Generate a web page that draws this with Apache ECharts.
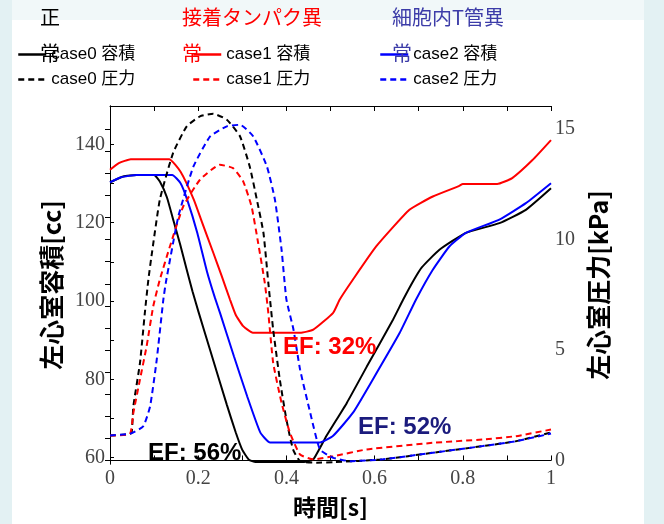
<!DOCTYPE html>
<html>
<head>
<meta charset="utf-8">
<script src="https://cdn.jsdelivr.net/npm/echarts@6/dist/echarts.min.js"></script>
<style>
  html, body { margin: 0; padding: 0; }
  #chart { width: 664px; height: 524px; }
</style>
</head>
<body>
<div id="chart"></div>
<script>
// Left ventricle volume [cc] over one cardiac cycle, time [s]
const case0VolT = [0, 0.03, 0.06, 0.1, 0.113, 0.129, 0.144, 0.159, 0.174, 0.187, 0.2, 0.227, 0.265, 0.285, 0.3, 0.315, 0.33, 0.44, 0.461, 0.491, 0.537, 0.582, 0.642, 0.664, 0.687, 0.707, 0.747, 0.807, 0.883, 0.943, 1];
const case0Vol  = [130.3, 131.8, 132.2, 132.2, 130.5, 126.5, 120.5, 114.5, 108, 102.5, 97.5, 87.5, 73.5, 66.5, 62, 59.5, 58.9, 58.9, 59.6, 65.6, 74, 83.2, 95.3, 100.2, 105, 108.6, 113.1, 117.4, 119.9, 123.3, 128.8];

const case1VolT = [0, 0.02, 0.047, 0.134, 0.16, 0.19, 0.209, 0.234, 0.253, 0.272, 0.285, 0.302, 0.324, 0.431, 0.461, 0.506, 0.521, 0.551, 0.604, 0.679, 0.732, 0.792, 0.8, 0.878, 0.912, 0.958, 1];
const case1Vol  = [133.5, 135.2, 136.2, 136.2, 133, 125.9, 120, 112.4, 106.5, 100.4, 96.5, 93.6, 91.9, 91.9, 92.7, 97, 100.4, 105.5, 114, 123.3, 126.7, 129.4, 129.9, 129.9, 131.4, 136, 141.1];

const case2VolT = [0, 0.025, 0.06, 0.141, 0.16, 0.175, 0.198, 0.22, 0.238, 0.25, 0.281, 0.311, 0.341, 0.363, 0.476, 0.506, 0.551, 0.596, 0.657, 0.694, 0.732, 0.77, 0.807, 0.883, 0.943, 1];
const case2Vol  = [130.3, 131.6, 132.2, 132.2, 130.1, 125.9, 117.4, 107.5, 100.8, 96.8, 85.9, 75.7, 66.4, 63.9, 63.9, 65.6, 71.5, 80, 91.9, 100.4, 108, 114, 117.4, 120.8, 125, 130.1];

// Left ventricle pressure [kPa]
const case0PresT = [0, 0.04, 0.049, 0.053, 0.068, 0.079, 0.087, 0.094, 0.113, 0.143, 0.174, 0.204, 0.234, 0.265, 0.295, 0.317, 0.333, 0.348, 0.359, 0.37, 0.385, 0.4, 0.415, 0.431, 0.469, 0.506, 0.619, 0.732, 0.845, 0.92, 1];
const case0Pres  = [1.13, 1.18, 1.25, 2.46, 4.42, 6.68, 8.19, 9.24, 11.81, 13.92, 15.13, 15.58, 15.7, 15.43, 14.67, 13.3, 11.81, 10.3, 8.04, 5.93, 3.67, 1.86, 0.5, -0.03, -0.1, -0.08, 0.05, 0.35, 0.65, 0.87, 1.27];

const case1PresT = [0, 0.045, 0.053, 0.068, 0.083, 0.098, 0.113, 0.136, 0.166, 0.204, 0.249, 0.279, 0.302, 0.321, 0.336, 0.351, 0.359, 0.37, 0.389, 0.408, 0.431, 0.461, 0.506, 0.582, 0.732, 0.845, 0.92, 1];
const case1Pres  = [1.13, 1.2, 2.16, 3.67, 5.17, 6.98, 8.19, 9.7, 11.5, 12.71, 13.39, 13.24, 12.64, 11.5, 9.84, 8.04, 6.68, 4.42, 2.61, 1.25, 0.27, 0.05, 0.19, 0.5, 0.8, 0.95, 1.1, 1.4];

const case2PresT = [0, 0.047, 0.0755, 0.091, 0.106, 0.121, 0.127, 0.155, 0.189, 0.227, 0.265, 0.295, 0.325, 0.356, 0.374, 0.389, 0.4, 0.416, 0.431, 0.454, 0.476, 0.506, 0.544, 0.619, 0.732, 0.845, 0.92, 1];
const case2Pres  = [1.13, 1.22, 1.55, 2.46, 4.57, 7.29, 8.1, 11.05, 13.3, 14.67, 15.13, 15.2, 14.67, 13.3, 11.81, 9.55, 7.29, 5.93, 4.12, 2.16, 0.5, 0.12, -0.03, 0.05, 0.35, 0.65, 0.87, 1.22];

// Axis ticks and labels
const timeTicks   = [0, 0.1, 0.2, 0.3, 0.4, 0.5, 0.6, 0.7, 0.8, 0.9, 1];
const timeLabels  = [0, 0.2, 0.4, 0.6, 0.8, 1];
const volTicks    = [60, 70, 80, 90, 100, 110, 120, 130, 140];
const volLabels   = [60, 80, 100, 120, 140];
const presTicks   = [0, 1, 2, 3, 4, 5, 6, 7, 8, 9, 10, 11, 12, 13, 14, 15];
const presLabels  = [0, 5, 10, 15];

// Group headings and ejection fraction notes
const groupTitles = ['正常', '接着タンパク異常', '細胞内T管異常'];
const efTexts     = ['EF: 56%', 'EF: 32%', 'EF: 52%'];

const zip = (xs, ys) => xs.map((x, i) => [x, ys[i]]);

const CJK = '"Noto Sans CJK JP", "Liberation Sans", sans-serif';
const SANS = '"Liberation Sans", "Noto Sans CJK JP", sans-serif';
const SERIF = '"Liberation Serif", serif';

const tickLabel = { fontFamily: SERIF, fontSize: 20, color: '#444' };
const axisLine = { show: true, lineStyle: { color: '#000', width: 1 } };
const axisTitle = (size) => ({ fontFamily: CJK, fontSize: size, fontWeight: 'bold', color: '#000' });

function lineSeries(name, data, color, dashed, yIndex) {
  return {
    name, type: 'line', data, yAxisIndex: yIndex,
    symbol: 'none', showSymbol: false,
    smooth: 0.15, animation: false,
    lineStyle: { color, width: 2, type: dashed ? [6, 4] : 'solid' },
    itemStyle: { color }
  };
}

function legendBlock(left, names) {
  return {
    data: names, orient: 'vertical', left, top: 46, padding: 0,
    itemWidth: 28, itemHeight: 14, itemGap: 8,
    itemStyle: { opacity: 0 },
    lineStyle: { width: 2.5 },
    textStyle: { fontFamily: SANS, fontSize: 17, color: '#000' }
  };
}

const chart = echarts.init(document.getElementById('chart'));
chart.setOption({
  backgroundColor: '#e3f1f3',
  animation: false,
  legend: [
    legendBlock(17, ['case0 容積', 'case0 圧力']),
    legendBlock(192, ['case1 容積', 'case1 圧力']),
    legendBlock(379, ['case2 容積', 'case2 圧力'])
  ],
  grid: { left: 110, right: 113, top: 106, bottom: 60, containLabel: false },
  xAxis: [{
    type: 'value', min: 0, max: 1, position: 'bottom',
    name: '時間[s]', nameLocation: 'middle', nameGap: 32,
    nameTextStyle: axisTitle(23),
    axisLine,
    axisTick: { inside: true, length: 5, customValues: timeTicks, lineStyle: { color: '#000' } },
    axisLabel: Object.assign({ margin: 5, customValues: timeLabels }, tickLabel),
    splitLine: { show: false }
  }, {
    type: 'value', min: 0, max: 1, position: 'top',
    axisLine,
    axisTick: { inside: true, length: 5, customValues: timeTicks, lineStyle: { color: '#000' } },
    axisLabel: { show: false },
    splitLine: { show: false }
  }],
  yAxis: [{
    type: 'value', min: 58.4, max: 149.8, position: 'left',
    name: '左心室容積[cc]', nameLocation: 'middle', nameGap: 46, nameRotate: 90,
    nameTextStyle: axisTitle(25),
    axisLine,
    axisTick: { inside: true, length: 4, customValues: volTicks, lineStyle: { color: '#000' } },
    axisLabel: Object.assign({ margin: 5, customValues: volLabels }, tickLabel),
    splitLine: { show: false }
  }, {
    type: 'value', min: -0.16, max: 16.05, position: 'right',
    name: '左心室圧力[kPa]', nameLocation: 'middle', nameGap: 31, nameRotate: 90,
    nameTextStyle: axisTitle(25),
    axisLine,
    axisTick: { inside: true, length: 5, customValues: presTicks, lineStyle: { color: '#000' } },
    axisLabel: Object.assign({ margin: 4, customValues: presLabels }, tickLabel),
    splitLine: { show: false }
  }],
  series: [
    lineSeries('case0 容積', zip(case0VolT, case0Vol), '#000000', false, 0),
    lineSeries('case1 容積', zip(case1VolT, case1Vol), '#ff0000', false, 0),
    lineSeries('case2 容積', zip(case2VolT, case2Vol), '#0000ff', false, 0),
    lineSeries('case0 圧力', zip(case0PresT, case0Pres), '#000000', true, 1),
    lineSeries('case1 圧力', zip(case1PresT, case1Pres), '#ff0000', true, 1),
    lineSeries('case2 圧力', zip(case2PresT, case2Pres), '#0000ff', true, 1)
  ],
  graphic: [
    // slide panel behind the chart
    { type: 'rect', z: -10, silent: true, shape: { x: 12, y: 0, width: 632, height: 20 }, style: { fill: '#f1f8f9' } },
    { type: 'rect', z: -10, silent: true, shape: { x: 12, y: 20, width: 632, height: 504 }, style: { fill: '#ffffff' } },
    // group headings (the last character wraps onto the legend row)
    { type: 'text', z: 100, style: { x: 40, y: -1, text: groupTitles[0].split('').join('\n'), font: '20px ' + CJK, lineHeight: 36, fill: '#000000' } },
    { type: 'text', z: 100, style: { x: 182, y: -1, text: groupTitles[1].slice(0, -1) + '\n' + groupTitles[1].slice(-1), font: '20px ' + CJK, lineHeight: 36, fill: '#ff0000' } },
    { type: 'text', z: 100, style: { x: 392, y: -1, text: groupTitles[2].slice(0, -1) + '\n' + groupTitles[2].slice(-1), font: '20px ' + CJK, lineHeight: 36, fill: '#3c3ca8' } },
    // ejection fractions
    { type: 'text', z: 100, style: { x: 148, y: 453, text: efTexts[0], font: 'bold 24px ' + SANS, fill: '#000000', verticalAlign: 'middle' } },
    { type: 'text', z: 100, style: { x: 283, y: 347, text: efTexts[1], font: 'bold 24px ' + SANS, fill: '#ff0000', verticalAlign: 'middle' } },
    { type: 'text', z: 100, style: { x: 358, y: 427, text: efTexts[2], font: 'bold 24px ' + SANS, fill: '#1b1b7d', verticalAlign: 'middle' } }
  ]
});
</script>
</body>
</html>
